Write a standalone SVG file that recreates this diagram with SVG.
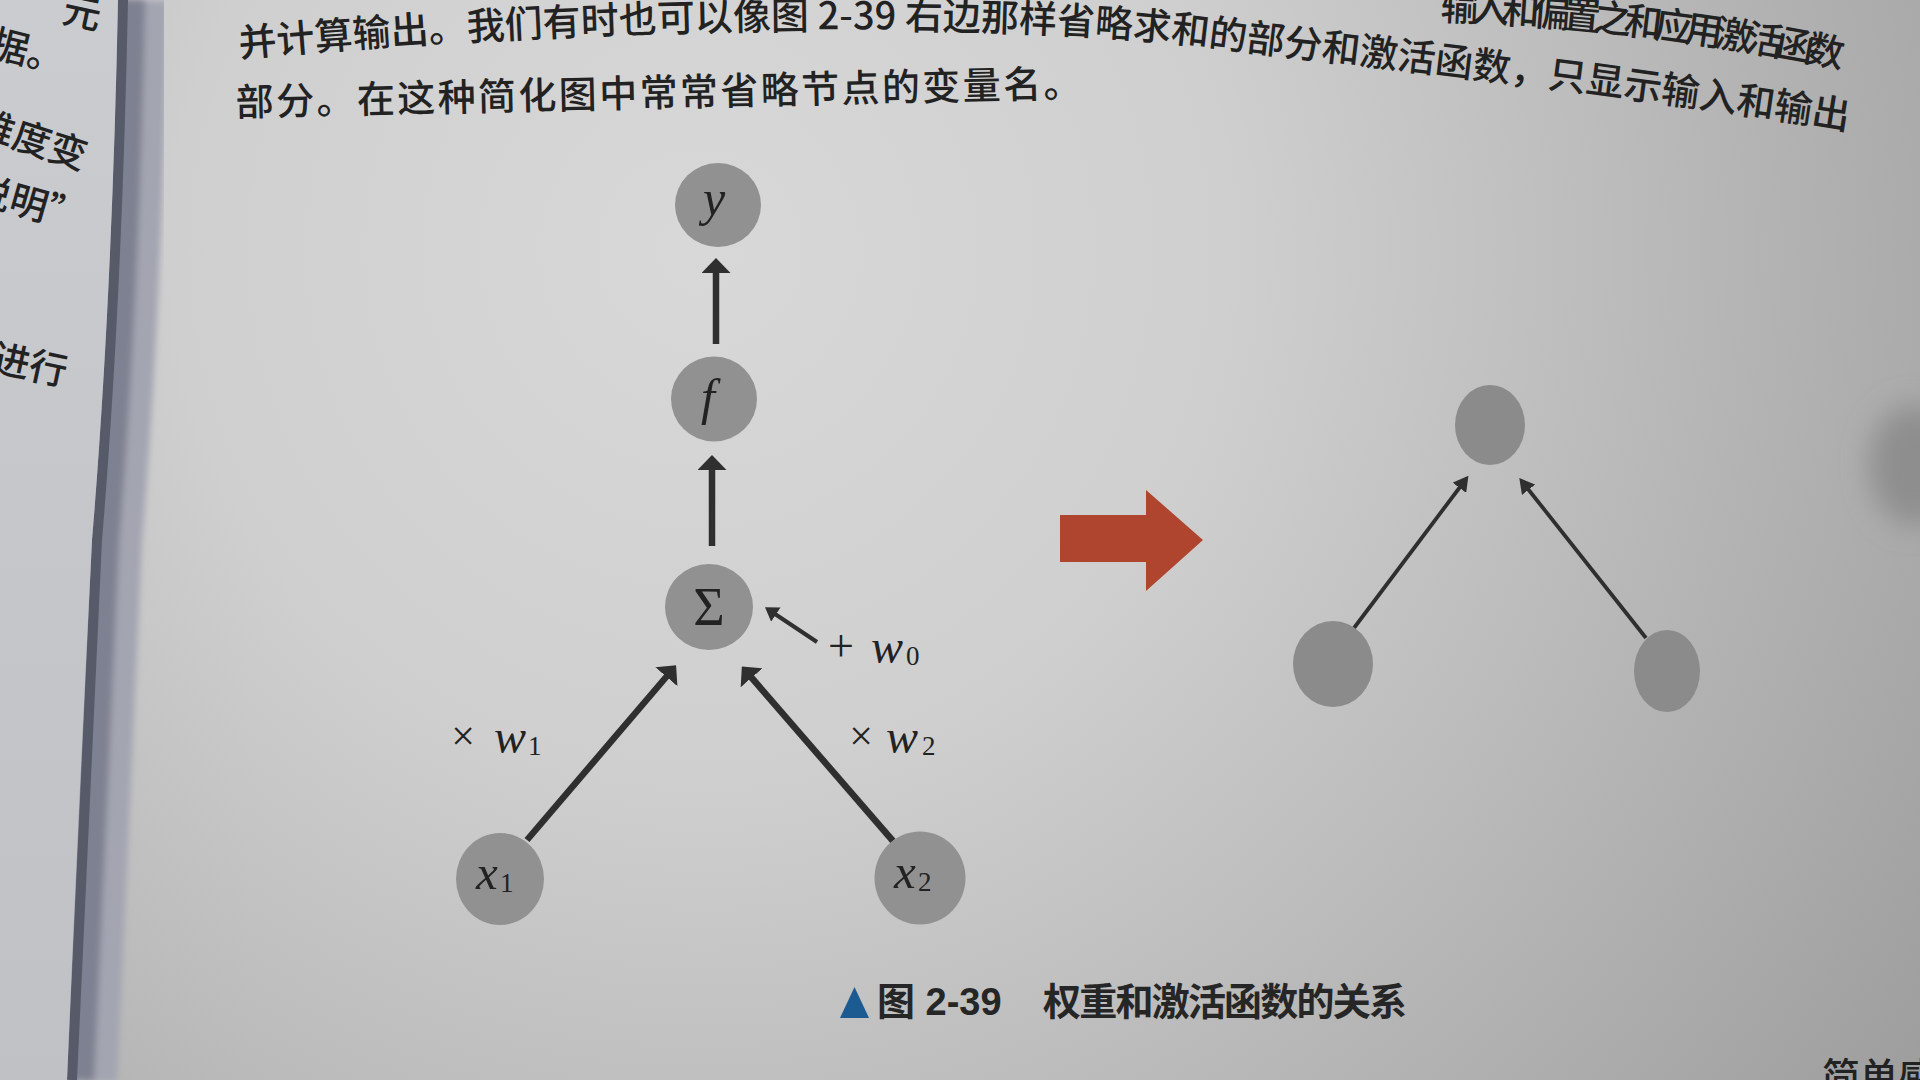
<svg xmlns="http://www.w3.org/2000/svg" width="1920" height="1080" viewBox="0 0 1920 1080">
<defs>
  <style>
    .node{fill:#919191}
    .rnode{fill:#8b8b8b}
    .lbl{font-family:"Liberation Serif","DejaVu Serif",serif;font-style:italic;fill:#222}
    .sub{font-family:"Liberation Serif","DejaVu Serif",serif;font-style:normal;fill:#222}
    .op{font-family:"Liberation Serif","DejaVu Serif",serif;fill:#222}
    .body{font-family:"Noto Sans CJK SC",sans-serif;fill:#222;font-size:38px;font-weight:500}
    .cap{font-family:"Liberation Sans","Noto Sans CJK SC",sans-serif;fill:#262626;font-size:38px;font-weight:bold}
    .conn{stroke:#2f2f2f;fill:none}
  </style>
  <radialGradient id="pageBg" cx="700" cy="250" r="1500" gradientUnits="userSpaceOnUse">
    <stop offset="0" stop-color="#d8d8d8"/>
    <stop offset="0.35" stop-color="#cfcfcf"/>
    <stop offset="0.6" stop-color="#bcbcbc"/>
    <stop offset="1" stop-color="#9c9c9c"/>
  </radialGradient>
  <linearGradient id="leftBg" x1="0" y1="0" x2="0" y2="1">
    <stop offset="0" stop-color="#cbcccf"/>
    <stop offset="1" stop-color="#c0c1c4"/>
  </linearGradient>
  <filter id="blur14" x="-100%" y="-100%" width="300%" height="300%"><feGaussianBlur stdDeviation="14"/></filter>
  <filter id="blur3" x="-50%" y="-10%" width="200%" height="120%"><feGaussianBlur stdDeviation="3"/></filter>
  <clipPath id="leftClip"><path d="M0,0 L118,0 Q112,300 92,540 Q78,820 67,1080 L0,1080 Z"/></clipPath>
  <marker id="hMain" viewBox="0 0 15 29" refX="1" refY="14.5" markerWidth="15" markerHeight="29" markerUnits="userSpaceOnUse" orient="auto">
    <path d="M0,0 L15,14.5 L0,29 Z" fill="#2f2f2f"/>
  </marker>
  <marker id="hSmall" viewBox="0 0 13 17" refX="1" refY="8.5" markerWidth="13" markerHeight="17" markerUnits="userSpaceOnUse" orient="auto">
    <path d="M0,0 L13,8.5 L0,17 Z" fill="#2f2f2f"/>
  </marker>
  <marker id="hRight" viewBox="0 0 15 17" refX="1" refY="8.5" markerWidth="15" markerHeight="17" markerUnits="userSpaceOnUse" orient="auto">
    <path d="M0,0 L15,8.5 L0,17 Z" fill="#2f2f2f"/>
  </marker>
  <path id="line0" d="M1440,20 Q1640,27 1850,70"/>
  <path id="line1" d="M240,57 C600,25 1000,20 1200,45 S1600,90 1860,132"/>
</defs>

<!-- page background -->
<g id="background">
  <rect x="0" y="0" width="1920" height="1080" fill="url(#pageBg)"/>
  <ellipse cx="1915" cy="465" rx="45" ry="60" fill="#8e8e8e" filter="url(#blur14)"/>
  <path d="M118,0 Q112,300 92,540 Q78,820 67,1080" stroke="#a3a5b1" stroke-width="60" fill="none" transform="translate(20,0)" filter="url(#blur3)"/>
  <path d="M118,0 Q112,300 92,540 Q78,820 67,1080" stroke="#7e8191" stroke-width="28" fill="none" transform="translate(13,0)" filter="url(#blur3)"/>
  <path d="M118,0 Q112,300 92,540 Q78,820 67,1080" stroke="#575a68" stroke-width="10" fill="none" transform="translate(5,0)"/>
  <path d="M0,0 L118,0 Q112,300 92,540 Q78,820 67,1080 L0,1080 Z" fill="url(#leftBg)"/>
</g>

<!-- page text -->
<g id="page-text">
  <g clip-path="url(#leftClip)" class="body">
    <text x="98" y="30" text-anchor="end" transform="rotate(12 98 30)">元</text>
    <text x="62" y="74" text-anchor="end" transform="rotate(14 62 74)">据。</text>
    <text x="82" y="170" text-anchor="end" transform="rotate(18 82 170)">维度变</text>
    <text x="80" y="232" text-anchor="end" transform="rotate(16 80 232)">说明”</text>
    <text x="64" y="386" text-anchor="end" transform="rotate(12 64 386)">进行</text>
  </g>
  <text class="body" font-size="30"><textPath href="#line0" textLength="405" lengthAdjust="spacing">输入和偏置之和应用激活函数</textPath></text>
  <text class="body"><textPath href="#line1" textLength="1615" lengthAdjust="spacing">并计算输出。我们有时也可以像图 2-39 右边那样省略求和的部分和激活函数，只显示输入和输出</textPath></text>
  <text class="body" x="236" y="116" textLength="846" lengthAdjust="spacing" transform="rotate(-1.3 236 116)">部分。在这种简化图中常常省略节点的变量名。</text>
  <text class="body" x="1822" y="1090">简单感知</text>
</g>

<!-- connectors -->
<g id="connectors" class="conn">
  <line x1="716" y1="344" x2="716" y2="272" stroke-width="6.5" marker-end="url(#hMain)"/>
  <line x1="712" y1="546" x2="712" y2="469" stroke-width="6.5" marker-end="url(#hMain)"/>
  <line x1="527" y1="840" x2="667" y2="676" stroke-width="6.5" marker-end="url(#hMain)"/>
  <line x1="893" y1="841" x2="751" y2="677" stroke-width="6.5" marker-end="url(#hMain)"/>
  <line x1="817" y1="642" x2="775" y2="614" stroke-width="4" marker-end="url(#hSmall)"/>
  <line x1="1354" y1="628" x2="1460" y2="487" stroke-width="3.8" marker-end="url(#hRight)"/>
  <line x1="1646" y1="638" x2="1528" y2="489" stroke-width="3.8" marker-end="url(#hRight)"/>
</g>

<!-- left diagram nodes -->
<g id="node-y">
  <ellipse class="node" cx="718" cy="205" rx="43" ry="42"/>
  <text class="lbl" x="714" y="215" font-size="50" text-anchor="middle">y</text>
</g>
<g id="node-f">
  <ellipse class="node" cx="714" cy="399" rx="43" ry="42.5"/>
  <text class="lbl" x="708" y="414" font-size="50" text-anchor="middle">f</text>
</g>
<g id="node-sum">
  <ellipse class="node" cx="709" cy="607" rx="44" ry="43"/>
  <text class="op" x="709" y="625" font-size="54" text-anchor="middle">Σ</text>
</g>
<g id="node-x1">
  <ellipse class="node" cx="500" cy="879" rx="44" ry="46"/>
  <text class="lbl" x="476" y="889" font-size="49">x</text>
  <text class="sub" x="500" y="892" font-size="27">1</text>
</g>
<g id="node-x2">
  <ellipse class="node" cx="920" cy="878" rx="45.5" ry="46.5"/>
  <text class="lbl" x="894" y="888" font-size="49">x</text>
  <text class="sub" x="918" y="891" font-size="27">2</text>
</g>

<!-- edge labels -->
<g id="edge-labels">
  <text class="op" x="463" y="750" font-size="42" text-anchor="middle">×</text>
  <text class="lbl" x="494" y="753" font-size="48">w</text>
  <text class="sub" x="528" y="755" font-size="27">1</text>
  <text class="op" x="861" y="750" font-size="42" text-anchor="middle">×</text>
  <text class="lbl" x="886" y="753" font-size="48">w</text>
  <text class="sub" x="922" y="755" font-size="27">2</text>
  <text class="op" x="841" y="661" font-size="46" text-anchor="middle">+</text>
  <text class="lbl" x="871" y="663" font-size="48">w</text>
  <text class="sub" x="906" y="665" font-size="27">0</text>
</g>

<!-- transition arrow -->
<g id="red-arrow">
  <polygon points="1060,515 1146,515 1146,490 1203,540 1146,591 1146,562 1060,562" fill="#b0452f"/>
</g>

<!-- right diagram nodes -->
<g id="node-r-top"><ellipse class="rnode" cx="1490" cy="425" rx="35" ry="40"/></g>
<g id="node-r-left"><ellipse class="rnode" cx="1333" cy="664" rx="40" ry="43"/></g>
<g id="node-r-right"><ellipse class="rnode" cx="1667" cy="671" rx="33" ry="41"/></g>

<!-- caption -->
<g id="caption">
  <polygon points="840,1018 854.5,987 869,1018" fill="#1c5b92"/>
  <text class="cap" x="877" y="1015">图 2-39</text>
  <text class="cap" x="1043" y="1015" textLength="364" lengthAdjust="spacing">权重和激活函数的关系</text>
</g>
</svg>
